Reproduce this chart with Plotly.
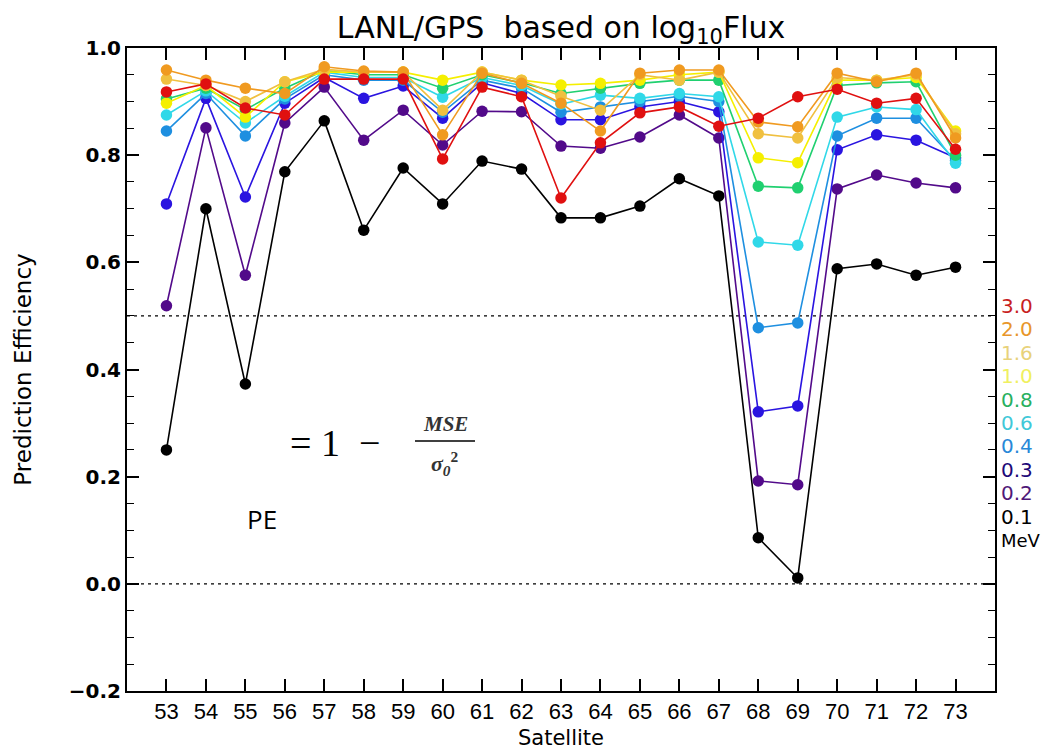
import plotly.graph_objects as go

satellites = list(range(53, 74))
energies = ["0.1", "0.2", "0.3", "0.4", "0.6", "0.8", "1.0", "1.6", "2.0", "3.0"]
pe_01 = [0.25, 0.70, 0.373, 0.769, 0.864, 0.660, 0.776, 0.709, 0.789, 0.774, 0.683, 0.683, 0.705, 0.756, 0.724, 0.086, 0.011, 0.588, 0.597, 0.576, 0.591]
pe_02 = [0.519, 0.851, 0.576, 0.86, 0.927, 0.828, 0.884, 0.819, 0.882, 0.881, 0.817, 0.813, 0.834, 0.875, 0.832, 0.192, 0.185, 0.737, 0.763, 0.748, 0.739]
pe_03 = [0.709, 0.906, 0.722, 0.897, 0.945, 0.906, 0.929, 0.869, 0.935, 0.915, 0.866, 0.866, 0.89, 0.90, 0.881, 0.321, 0.332, 0.810, 0.838, 0.828, 0.795]
pe_04 = [0.845, 0.915, 0.836, 0.905, 0.95, 0.94, 0.94, 0.88, 0.94, 0.925, 0.88, 0.89, 0.90, 0.91, 0.90, 0.478, 0.487, 0.836, 0.869, 0.869, 0.79]
pe_06 = [0.875, 0.92, 0.86, 0.91, 0.955, 0.945, 0.945, 0.908, 0.945, 0.93, 0.895, 0.912, 0.906, 0.915, 0.909, 0.638, 0.632, 0.871, 0.89, 0.885, 0.785]
pe_08 = [0.905, 0.925, 0.885, 0.925, 0.958, 0.95, 0.95, 0.925, 0.95, 0.935, 0.915, 0.925, 0.934, 0.94, 0.94, 0.742, 0.739, 0.93, 0.935, 0.937, 0.80]
pe_10 = [0.897, 0.93, 0.871, 0.937, 0.955, 0.955, 0.955, 0.94, 0.955, 0.94, 0.931, 0.934, 0.94, 0.95, 0.955, 0.795, 0.786, 0.94, 0.94, 0.945, 0.845]
pe_16 = [0.942, 0.93, 0.90, 0.937, 0.96, 0.955, 0.955, 0.884, 0.955, 0.94, 0.91, 0.884, 0.95, 0.94, 0.955, 0.84, 0.832, 0.945, 0.94, 0.95, 0.84]
pe_20 = [0.959, 0.94, 0.925, 0.915, 0.965, 0.957, 0.955, 0.838, 0.953, 0.934, 0.897, 0.845, 0.953, 0.959, 0.959, 0.862, 0.853, 0.953, 0.937, 0.953, 0.832]
pe_30 = [0.918, 0.933, 0.888, 0.875, 0.942, 0.942, 0.942, 0.793, 0.927, 0.909, 0.720, 0.823, 0.879, 0.890, 0.854, 0.869, 0.909, 0.923, 0.897, 0.906, 0.811]
series = [pe_01, pe_02, pe_03, pe_04, pe_06, pe_08, pe_10, pe_16, pe_20, pe_30]

line_colors = ["#000000", "#520a8a", "#2a14e0", "#1e8fe0", "#30d8e8", "#20d070", "#f5ef00", "#f0c040", "#f09a20", "#e01010"]
label_colors = ["#000000", "#501878", "#200878", "#2888d8", "#40c8d8", "#28b060", "#f0f060", "#e8d27a", "#e8962a", "#c81e1e"]

# page has an 8px body margin: figure sized so the page matches the 1055x750 window
FIG_W, FIG_H = 1047, 742

fig = go.Figure()
for vals, col, name in zip(series, line_colors, energies):
    fig.add_trace(go.Scatter(
        x=satellites, y=vals, mode="lines+markers", name=name,
        line=dict(color=col, width=1.6),
        marker=dict(color=col, size=11.5, symbol="circle"),
        showlegend=False, cliponaxis=False,
    ))

for yv in [0.0, 0.5]:
    fig.add_shape(type="line", xref="paper", yref="y", x0=0, x1=1, y0=yv, y1=yv,
                  line=dict(color="black", width=1.3, dash="3px,4px"), layer="below")

font_main = "DejaVu Sans, sans-serif"


def px(xp):
    return (xp - 127) / 868


def py(yp):
    return (691 - yp) / 643


# legend text on the right
leg_labels = ["3.0", "2.0", "1.6", "1.0", "0.8", "0.6", "0.4", "0.3", "0.2", "0.1"]
leg_cols = label_colors[::-1]
for i, (lab, col) in enumerate(zip(leg_labels, leg_cols)):
    fig.add_annotation(xref="paper", yref="paper", x=px(999), y=py(306 + i * 23.4),
                       text=lab, showarrow=False, xanchor="left", yanchor="middle",
                       font=dict(family=font_main, size=20, color=col))
fig.add_annotation(xref="paper", yref="paper", x=px(999), y=py(540),
                   text="MeV", showarrow=False, xanchor="left", yanchor="middle",
                   font=dict(family=font_main, size=18, color="black"))

# formula
fig.add_annotation(xref="paper", yref="paper", x=px(288), y=py(443),
                   text="= 1  \u2212", showarrow=False, xanchor="left", yanchor="middle",
                   font=dict(family="Liberation Serif, serif", size=38, color="black"))
fig.add_annotation(xref="paper", yref="paper", x=px(445), y=py(424),
                   text="<i><b>MSE</b></i>", showarrow=False, xanchor="center", yanchor="middle",
                   font=dict(family="Liberation Serif, serif", size=21, color="#333333"))
fig.add_shape(type="line", xref="paper", yref="paper",
              x0=px(415), x1=px(475), y0=py(441), y1=py(441),
              line=dict(color="black", width=1.5))
fig.add_annotation(xref="paper", yref="paper", x=px(445), y=py(463),
                   text="<i><b>σ</b></i><sub><i><b>0</b></i></sub><sup><b>2</b></sup>", showarrow=False,
                   xanchor="center", yanchor="middle",
                   font=dict(family="Liberation Serif, serif", size=22, color="#333333"))
fig.add_annotation(xref="paper", yref="paper", x=px(245), y=py(519),
                   text="PE", showarrow=False, xanchor="left", yanchor="middle",
                   font=dict(family="Open Sans, Liberation Sans, sans-serif", size=26, color="black"))

fig.update_layout(
    width=FIG_W, height=FIG_H,
    margin=dict(l=119, r=60, t=40, b=59),
    plot_bgcolor="white", paper_bgcolor="white",
    title=dict(text="LANL/GPS  based on log<sub>10</sub>Flux", x=553 / FIG_W, xanchor="center",
               y=1 - 19 / FIG_H, yanchor="middle",
               font=dict(family=font_main, size=30, color="black")),
    font=dict(family=font_main, color="black"),
)
fig.update_xaxes(
    range=[52, 74], tickmode="array", tickvals=satellites,
    ticktext=[str(s) for s in satellites],
    ticks="inside", ticklen=12, tickwidth=1.5, tickcolor="black",
    showline=True, linewidth=2, linecolor="black", mirror="ticks",
    showgrid=False, zeroline=False, automargin=False,
    tickfont=dict(size=22, family="Liberation Sans Narrow, Liberation Sans, sans-serif"),
    title=dict(text="Satellite", font=dict(size=21, family=font_main), standoff=8),
)
fig.update_yaxes(
    range=[-0.2, 1.0], tickmode="array", tickvals=[-0.2, 0.0, 0.2, 0.4, 0.6, 0.8, 1.0],
    ticktext=["\u22120.2", "0.0", "0.2", "0.4", "0.6", "0.8", "1.0"],
    ticks="inside", ticklen=12, tickwidth=1.5, tickcolor="black",
    minor=dict(dtick=0.05, tick0=0, ticks="inside", ticklen=7, tickwidth=1.2, tickcolor="black", showgrid=False),
    showline=True, linewidth=2, linecolor="black", mirror="ticks",
    showgrid=False, zeroline=False, automargin=False,
    tickfont=dict(size=20, family=font_main, weight="bold"),
    title=dict(text="Prediction Efficiency", font=dict(size=23, family=font_main), standoff=31),
)

fig.write_html("out.html")
